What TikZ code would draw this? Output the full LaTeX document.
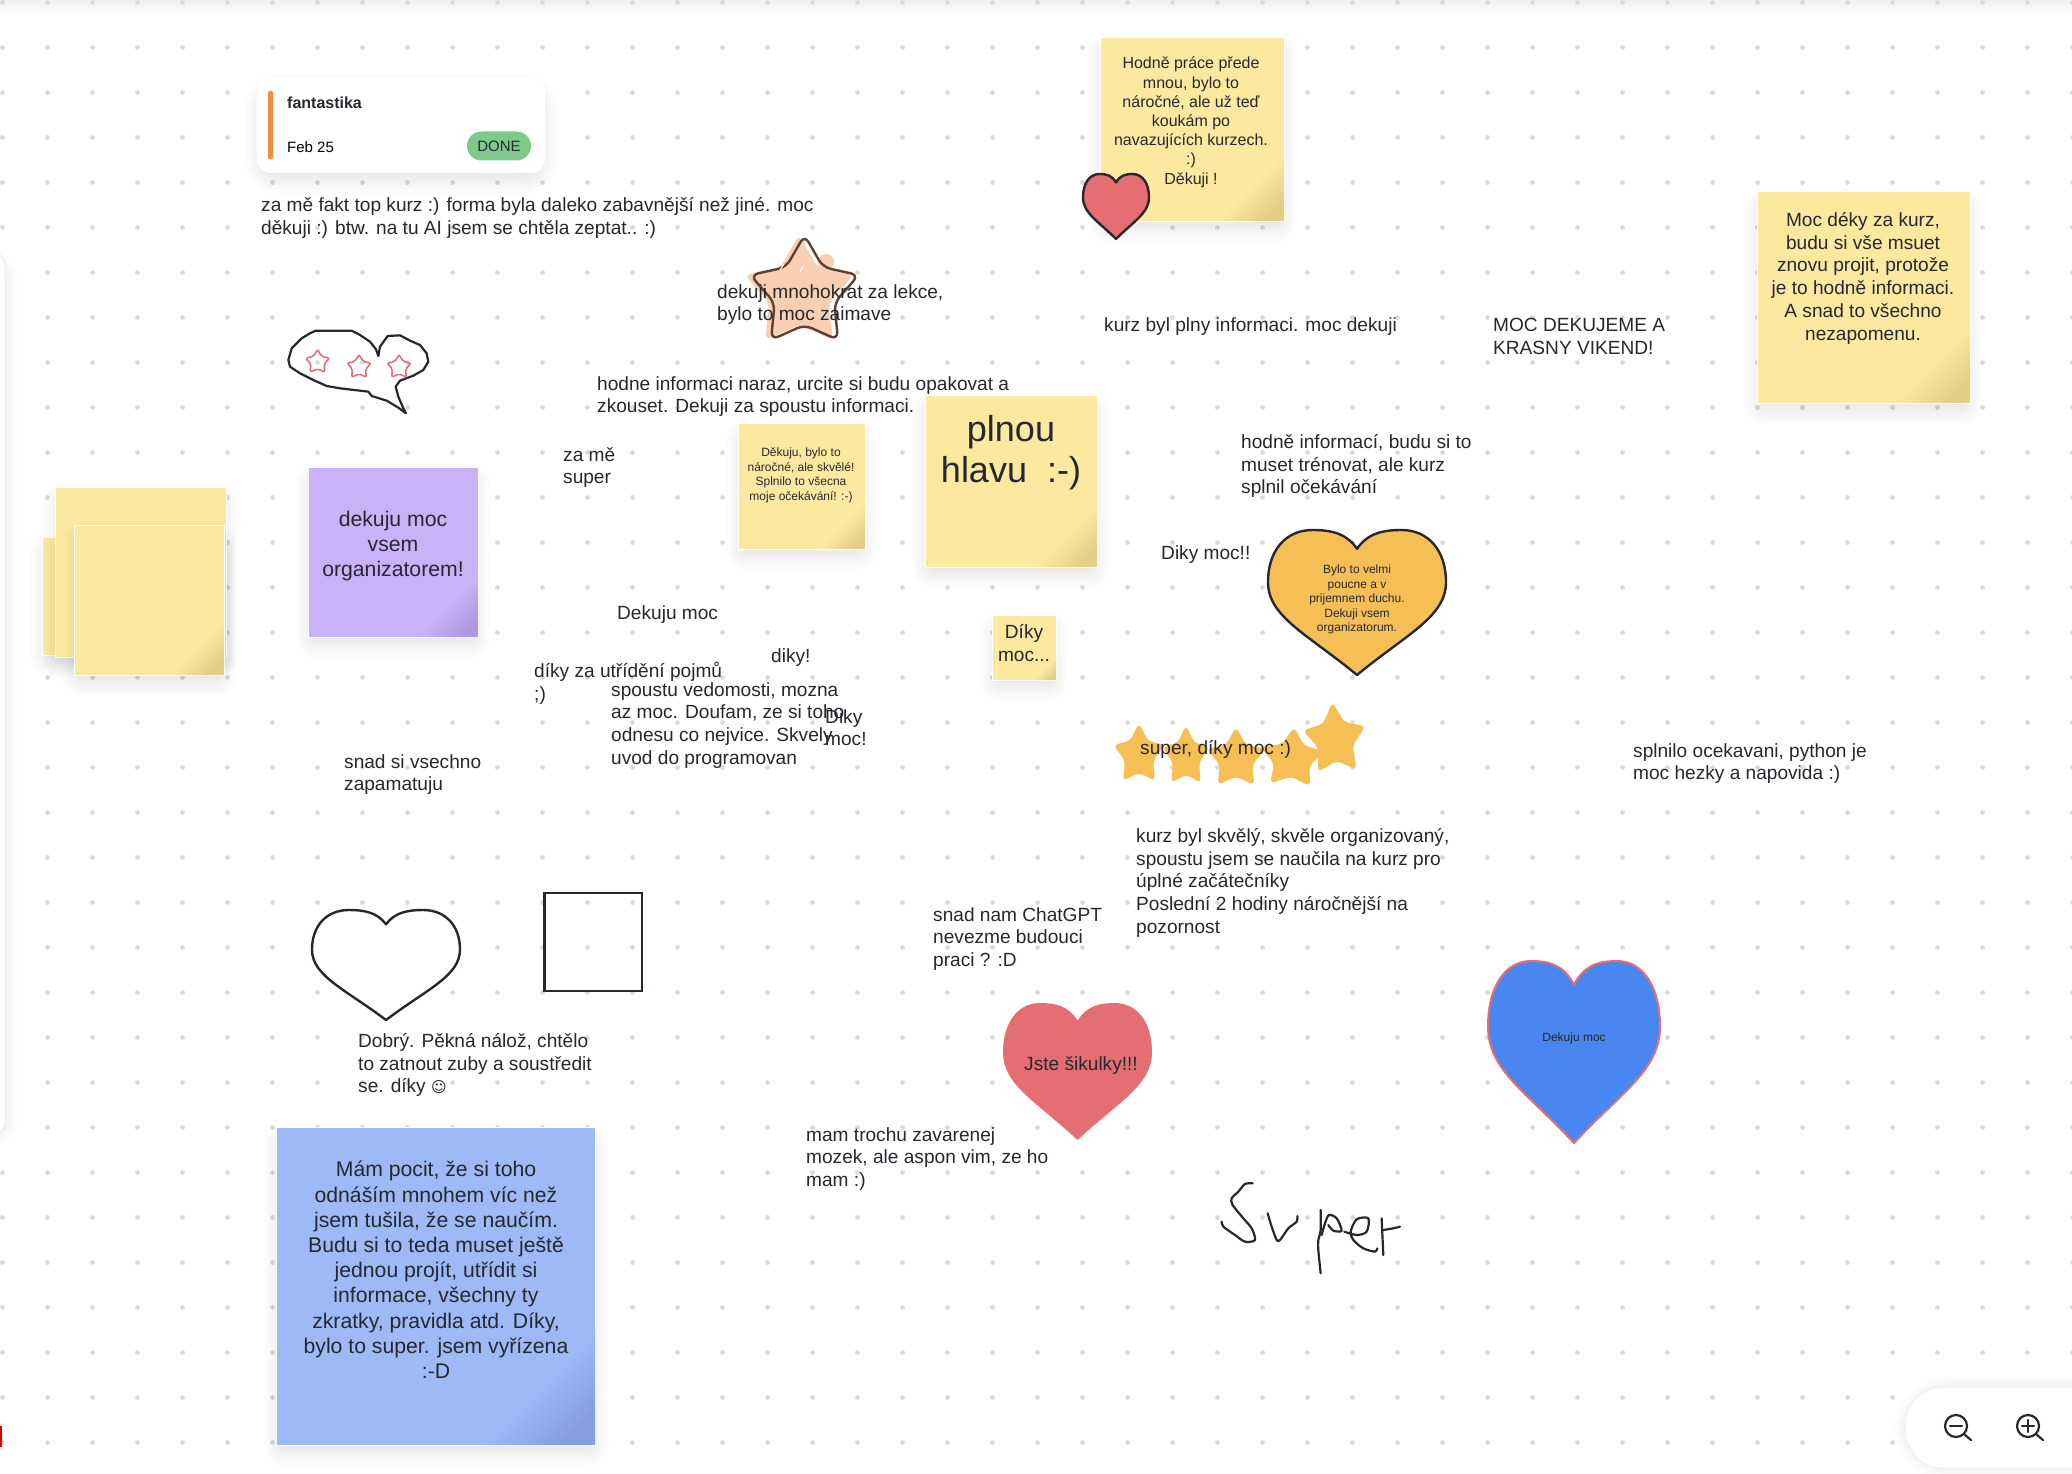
\documentclass[tikz,border=0pt]{standalone}
\usepackage{fontspec}
\setmainfont{Liberation Sans}
\newfontfamily\symbolfont{DejaVu Sans}
\definecolor{inktext}{HTML}{27272F}
\definecolor{griddot}{HTML}{DADADA}
\definecolor{noteyellow}{HTML}{FBE9A0}
\definecolor{cornyellow}{HTML}{D8C27A}
\definecolor{notepurple}{HTML}{C9B2F8}
\definecolor{cornpurple}{HTML}{A68CD6}
\definecolor{noteblue}{HTML}{9DB9F6}
\definecolor{cornblue}{HTML}{7A93D4}
\definecolor{heartred}{HTML}{E56E72}
\definecolor{gold}{HTML}{F5BF55}
\definecolor{royal}{HTML}{4A86F0}
\definecolor{peach}{HTML}{F8CFB3}
\definecolor{peachline}{HTML}{5E4030}
\definecolor{donegreen}{HTML}{7FC98A}
\definecolor{barorange}{HTML}{F58E3F}
\newcommand{\softshadow}[5][0]{\foreach \b in {-8,-6,...,12}
  \fill[black,opacity=.009,rounded corners={(#1+\b+8)*1pt}] (#2-\b,#3+9-\b) rectangle (#4+\b,#5+9+\b);}
\newcommand{\heartpath}{(0,.13) .. controls (.12,.02) and (.3,0) .. (.5,0)
  .. controls (.8,0) and (1,.14) .. (1,.36) .. controls (1,.6) and (.55,.72) .. (0,1)
  .. controls (-.55,.72) and (-1,.6) .. (-1,.36) .. controls (-1,.14) and (-.8,0) .. (-.5,0)
  .. controls (-.3,0) and (-.12,.02) .. cycle}
\def\starin{.55}
\newcommand{\starpath}{(270:1) -- (306:\starin) -- (342:1) -- (18:\starin) -- (54:1) -- (90:\starin)
  -- (126:1) -- (162:\starin) -- (198:1) -- (234:\starin) -- cycle}
\begin{document}
\begin{tikzpicture}[x=1pt,y=-1pt]
\tikzstyle{notebox}=[draw=white,line width=.8pt,inner sep=0pt,outer sep=0pt]
\tikzstyle{txt}=[text=inktext,inner sep=0pt,anchor=north west,align=left,yshift=-4pt,
  font=\fontsize{19.1}{22.8}\selectfont,execute at begin node=\strut]
\tikzstyle{ctxt}=[txt,anchor=north,align=center]
\tikzstyle{inkline}=[draw=inktext,line width=2.2pt,line cap=round,line join=round]
\tikzstyle{heartline}=[line width=2.4pt,line join=round]
\tikzstyle{goldstar}=[fill=gold,rounded corners=4.5pt]
\tikzstyle{redstar}=[draw=heartred,line width=1.6pt,rounded corners=2pt]
\useasboundingbox (0,0) rectangle (2072,1474);
\fill[white] (0,0) rectangle (2072,1474);
\shade[top color=black!6,bottom color=white] (0,0) rectangle (2072,14);
  \foreach \col in {0,...,46}
    \foreach \row in {0,...,32}
      \fill[griddot] (2.5+45*\col,2.5+45*\row) circle (2.4);
% side panel and zoom bar
\softshadow[10]{-30}{253}{5}{1127}
\fill[white,draw=black!7,line width=1pt,rounded corners=12pt] (-30,253) rectangle (5,1135);
\fill[red!85!black] (0,1426) rectangle (2,1447);
\softshadow[38]{1905}{1379}{2130}{1460}
\fill[white,draw=black!6,line width=1pt,rounded corners=38pt] (1905,1387) rectangle (2130,1468);
\foreach \name/\cx in {zoomout/1956,zoomin/2028}{
  \node[draw=inktext,line width=2.2pt,circle,minimum size=22pt,inner sep=0pt] (\name) at (\cx,1426) {};
  \coordinate (\name end) at (\cx+15,1440);
  \draw[inkline,line width=2.2pt] (\name.-45) -- (\name end);
  \draw[inkline,line width=2.2pt] (\cx-6,1426) -- (\cx+6,1426);
}
\draw[inkline,line width=2.2pt] (2028,1420) -- (2028,1432);
% sticky notes
\foreach \name/\xa/\ya/\xb/\yb/\col/\corn in {
    stackback/42/537/226/655/noteyellow/noteyellow,
    stackmid/55/487/226/657/noteyellow/noteyellow,
    stacktop/74/525/224/675/noteyellow/cornyellow,
    purplenote/308/467/478/637/notepurple/cornpurple,
    smallnote/738/423/865/549/noteyellow/cornyellow,
    plnounote/925/395/1097/567/noteyellow/cornyellow,
    dikynote/992/615/1056/680/noteyellow/cornyellow,
    pracenote/1100/37/1284/221/noteyellow/cornyellow,
    kurznote/1757/191/1970/403/noteyellow/cornyellow,
    bluenote/276/1127/595/1445/noteblue/cornblue}{
  \softshadow{\xa}{\ya}{\xb}{\yb}
  \pgfmathsetmacro{\cornsize}{(\xb-\xa)*.36}
  \node[notebox,fill=\col,minimum width={(\xb-\xa)*1pt},minimum height={(\yb-\ya)*1pt}]
    (\name) at ({(\xa+\xb)/2},{(\ya+\yb)/2}) {};
  \shade[bottom color=\corn!70!\col,top color=\col,middle color=\col,shading angle=45]
    (\xb-\cornsize,\yb) -- (\xb,\yb) -- (\xb,\yb-\cornsize) -- cycle;
}
% card
\softshadow[14]{257}{77}{545}{173}
\node[fill=white,rounded corners=14pt,minimum width=288pt,minimum height=96pt,inner sep=0pt] (card) at (401,125) {};
\coordinate (bartop) at (270.5,93);
\coordinate (barend) at (270.5,157);
\draw[barorange,line width=5pt,line cap=round] (bartop) -- (barend);
\node[txt,font=\fontsize{16}{19}\bfseries\selectfont] (cardtitle) at (287,91) {fantastika};
\node[txt,font=\fontsize{15}{18}\selectfont,text=black] (carddate) at (287,136) {Feb 25};
\node[fill=donegreen,rounded corners=14.5pt,minimum width=64pt,minimum height=29pt,inner sep=0pt,
  text=inktext,font=\fontsize{15}{18}\selectfont] (done) at (499,146) {DONE};
% shapes
\begin{scope}[shift={(270,310)},scale=.3333]
\draw[inkline] (137,62) -- (245,62) -- (270,75) -- (300,95) -- (318,118) -- (325,138) -- (330,110)
  -- (353,78) -- (390,76) -- (420,92) -- (450,105) -- (470,130) -- (475,155) -- (460,180) -- (430,197)
  -- (390,212) -- (377,230) -- (385,260) -- (400,295) -- (408,310) -- (385,293) -- (350,272)
  -- (305,258) -- (295,245) -- (210,235) -- (170,228) -- (130,210) -- (90,190) -- (60,170)
  -- (55,150) -- (65,115) -- (95,85) -- (120,70) -- cycle;
\end{scope}
\foreach \cx/\cy in {317.5/362,359/367,399/367}
  \draw[redstar,shift={(\cx,\cy)},scale=12.5] \starpath;
\foreach \cx/\top/\wid/\hei/\col in {1116/174/33/65/heartred,1357/530/89/145/gold}
  \draw[inktext,fill=\col,heartline,shift={(\cx,\top)},xscale=\wid,yscale=\hei] \heartpath;
\draw[inktext,fill=white,heartline,shift={(386,910)},xscale=74,yscale=110] \heartpath;
\fill[heartred,shift={(1077.5,1003)},xscale=74.5,yscale=137] \heartpath;
\draw[heartred,fill=royal,line width=2pt,line join=round,shift={(1574,961)},xscale=86,yscale=182] \heartpath;
\draw[inktext,line width=2.4pt] (544.5,893) rectangle (642,991);
\fill[peach,shift={(799,293)},xscale=57,yscale=58,rounded corners=6pt] \starpath;
\fill[peach] (826,262) circle (8);
\fill[peach] (777,326) circle (8);
\draw[peachline,line width=2.4pt,rounded corners=8pt,shift={(804.5,293)},xscale=57,yscale=58] \starpath;
\draw[white,line width=1pt] (780,270) -- (784,264) (800,272) -- (803,266);
\foreach \cx/\cy/\rx/\ry/\rot in {1139/755/27/32/0,1186/757/25/32/0,1236/759/31/32/0,1292/759/34/32/-4,1335/740/33/38/4}
  \fill[goldstar,shift={(\cx,\cy)},rotate=\rot,xscale=\rx,yscale=\ry] \starpath;
\begin{scope}[shift={(1180,1160)},scale=.3333]
\draw[inkline] plot[smooth] coordinates {(218,70) (195,72) (175,95) (155,115) (158,135) (190,175) (215,205) (225,240) (195,245) (165,225) (130,200) (125,185)};
\draw[inkline] plot[smooth] coordinates {(263,160) (275,200) (290,240) (300,240) (325,205) (350,185) (352,168)};
\draw[inkline] plot[smooth] coordinates {(422,150) (422,210) (415,240) (415,270) (422,340)};
\draw[inkline] plot[smooth] coordinates {(425,225) (435,190) (447,165) (470,175) (485,212) (460,212) (445,195)};
\draw[inkline] plot[smooth] coordinates {(493,215) (530,225) (560,215) (565,175) (530,178) (512,215) (520,240) (550,265) (585,275) (592,265)};
\draw[inkline] (605,175) -- (610,285);
\draw[inkline] plot[smooth] coordinates {(610,210) (640,205) (660,200)};
\end{scope}
% free texts
\foreach \cx/\cy/\name/\body in {
    261/193/topkurz/{za mě fakt top kurz :) forma byla daleko zabavnější než jiné. moc\\děkuji :) btw. na tu AI jsem se chtěla zeptat.. :)},
    717/280/mnohokrat/{dekuji mnohokrat za lekce,\\bylo to moc zaimave},
    1104/311/plnyinfo/{kurz byl plny informaci. moc dekuji},
    1493/314/vikend/{MOC DEKUJEME A\\KRASNY VIKEND!},
    597/372/naraz/{hodne informaci naraz, urcite si budu opakovat a\\zkouset. Dekuji za spoustu informaci.},
    563/443/zame/{za mě\\super},
    617/599/dekujumoc/{Dekuju moc},
    534/658/pojmy/{díky za utřídění pojmů\\;)},
    771/642/dikyone/{diky!},
    611/678/vedomosti/{spoustu vedomosti, mozna\\az moc. Doufam, ze si toho\\odnesu co nejvice. Skvely\\uvod do programovan},
    825/705/dikymoc/{Diky\\moc!},
    344/750/zapamatuju/{snad si vsechno\\zapamatuju},
    1140/734/superdiky/{super, díky moc :)},
    1136/824/skvely/{kurz byl skvělý, skvěle organizovaný,\\spoustu jsem se naučila na kurz pro\\úplné začátečníky\\Poslední 2 hodiny náročnější na\\pozornost},
    933/903/chatgpt/{snad nam ChatGPT\\nevezme budouci\\praci ? :D},
    1633/739/python/{splnilo ocekavani, python je\\moc hezky a napovida :)},
    1241/430/trenovat/{hodně informací, budu si to\\muset trénovat, ale kurz\\splnil očekávání},
    1161/539/dikyvykric/{Diky moc!!},
    358/1029/dobry/{Dobrý. Pěkná nálož, chtělo\\to zatnout zuby a soustředit\\se. díky {\symbolfont\fontsize{15}{18}\selectfont ☺}},
    806/1123/zavarenej/{mam trochu zavarenej\\mozek, ale aspon vim, ze ho\\mam :)}}
  \node[txt] (\name) at (\cx,\cy) {\body};
% texts on notes and hearts
\foreach \cx/\cy/\name/\body in {
    1024/620/dikytxt/{Díky\\moc...},
    1863/208/kurztxt/{Moc déky za kurz,\\budu si vše msuet\\znovu projit, protože\\je to hodně informaci.\\A snad to všechno\\nezapomenu.},
    1081/1050/sikulky/{Jste šikulky!!!}}
  \node[ctxt] (\name) at (\cx,\cy) {\body};
\foreach \cx/\cy/\name/\body in {
    801/444/smalltxt/{Děkuju, bylo to\\náročné, ale skvělé!\\Splnilo to všecna\\moje očekávání! :-)},
    1357/561/velmitxt/{Bylo to velmi\\poucne a v\\prijemnem duchu.\\Dekuji vsem\\organizatorum.},
    1574/1027/dekujublue/{Dekuju moc}}
  \node[ctxt,font=\fontsize{12}{14.4}\selectfont] (\name) at (\cx,\cy) {\body};
\node[ctxt,font=\fontsize{16}{19.2}\selectfont] (pracetxt) at (1191,53) {Hodně práce přede\\mnou, bylo to\\náročné, ale už teď\\koukám po\\navazujících kurzech.\\:)\\Děkuji !};
\foreach \cx/\cy/\name/\body in {
    393/507/purpletxt/{dekuju moc\\vsem\\organizatorem!},
    436/1157/bluetxt/{Mám pocit, že si toho\\odnáším mnohem víc než\\jsem tušila, že se naučím.\\Budu si to teda muset ještě\\jednou projít, utřídit si\\informace, všechny ty\\zkratky, pravidla atd. Díky,\\bylo to super. jsem vyřízena\\:-D}}
  \node[ctxt,font=\fontsize{21.2}{25.2}\selectfont] (\name) at (\cx,\cy) {\body};
\node[ctxt,font=\fontsize{36}{41.5}\selectfont] (plnoutxt) at (1011,411) {plnou\\hlavu\ \ :-)};
\end{tikzpicture}
\end{document}
